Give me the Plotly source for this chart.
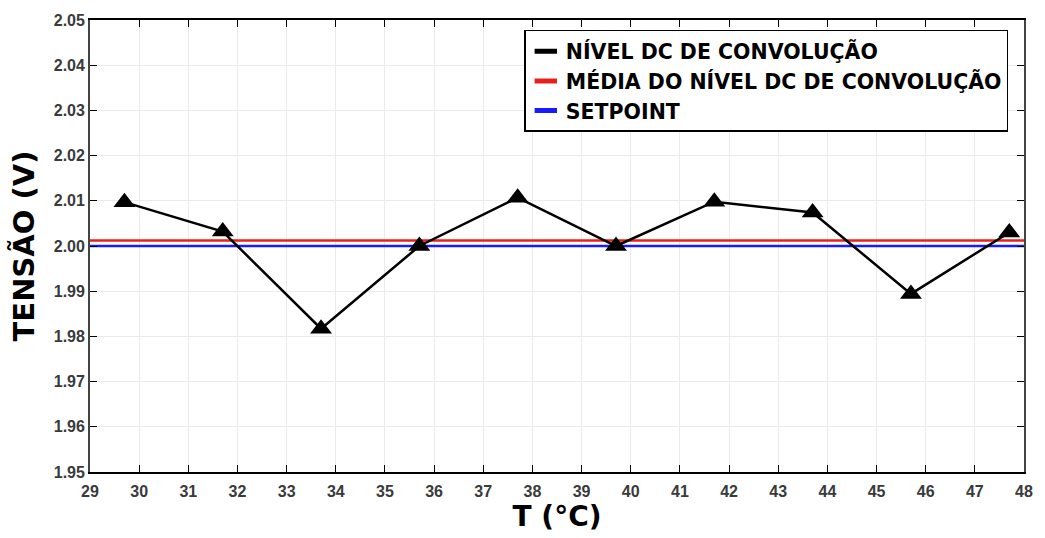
import plotly.graph_objects as go

temps = [29.7, 31.7, 33.7, 35.7, 37.7, 39.7, 41.7, 43.7, 45.7, 47.7]
nivel_dc = [2.0097, 2.0032, 1.9817, 2.0000, 2.0107, 2.0000, 2.0098, 2.0074, 1.9894, 2.0030]
media_dc = 2.0012
setpoint = 2.0000
x_range = [29, 48]
y_range = [1.95, 2.05]
x_ticks = list(range(29, 49))
y_ticks = [1.95, 1.96, 1.97, 1.98, 1.99, 2.00, 2.01, 2.02, 2.03, 2.04, 2.05]
names = ["NÍVEL DC DE CONVOLUÇÃO", "MÉDIA DO NÍVEL DC DE CONVOLUÇÃO", "SETPOINT"]
colors = ["black", "#e8201c", "#1a1aff"]

fig = go.Figure()
# legend entries (short thick dashes)
for nm, c in zip(names, colors):
    fig.add_trace(go.Scatter(
        x=[None], y=[None], mode="markers", name=f"<b>{nm}</b>",
        marker=dict(symbol="line-ew", size=16, color=c, line=dict(color=c, width=5)),
        showlegend=True,
    ))
fig.add_trace(go.Scatter(
    x=x_range, y=[media_dc, media_dc], mode="lines", showlegend=False,
    line=dict(color=colors[1], width=2.5),
))
fig.add_trace(go.Scatter(
    x=x_range, y=[setpoint, setpoint], mode="lines", showlegend=False,
    line=dict(color=colors[2], width=2.5),
))
fig.add_trace(go.Scatter(
    x=temps, y=nivel_dc, mode="lines+markers", showlegend=False,
    line=dict(color=colors[0], width=2.5),
    marker=dict(symbol="triangle-up", size=19, color="black"),
))

tickfont = dict(family="Liberation Sans", size=16, color="#3a3a3a", weight="bold")
fig.update_xaxes(
    range=x_range, tickvals=x_ticks, ticktext=[str(t) for t in x_ticks],
    showgrid=True, gridcolor="#ebebeb", gridwidth=1,
    showline=True, linecolor="black", linewidth=1.5, mirror="ticks",
    ticks="inside", ticklen=7, tickcolor="black", ticklabelstandoff=4,
    tickfont=tickfont, zeroline=False,
    title=dict(text="<b>T (°C)</b>", font=dict(family="DejaVu Sans", size=28, color="black"), standoff=6),
)
fig.update_yaxes(
    range=y_range, tickvals=y_ticks, ticktext=[f"{v:.2f}" for v in y_ticks],
    showgrid=True, gridcolor="#ebebeb", gridwidth=1,
    showline=True, linecolor="#444444", linewidth=1.8, mirror="ticks",
    ticks="inside", ticklen=7, tickcolor="black",
    tickfont=tickfont, zeroline=False,
    title=dict(text="<b>TENSÃO (V)</b>", font=dict(family="DejaVu Sans", size=29, color="black"), standoff=11),
)
fig.update_layout(
    width=1045, height=538,
    paper_bgcolor="white", plot_bgcolor="white",
    margin=dict(l=90, r=15, t=17, b=64),
    legend=dict(
        x=0.465, y=0.978, xanchor="left", yanchor="top",
        bgcolor="white", bordercolor="black", borderwidth=1.5,
        font=dict(family="DejaVu Sans", size=20.5, color="black"),
        tracegroupgap=0, itemsizing="trace", traceorder="normal",
        itemwidth=30,
    ),
    showlegend=True,
)
fig.write_html("out.html")
